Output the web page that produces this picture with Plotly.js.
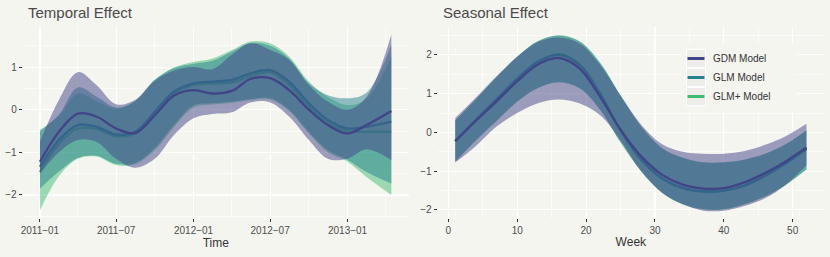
<!DOCTYPE html>
<html><head><meta charset="utf-8">
<script src="https://cdn.plot.ly/plotly-3.0.1.min.js"></script>
<style>html,body{margin:0;padding:0;background:#F5F5F0;}#chart{width:830px;height:257px;}</style>
</head><body><div id="chart"></div>
<script>
// ---------- data ----------
const modelNames = ['GDM Model', 'GLM Model', 'GLM+ Model'];
const modelColors = ['#414487', '#26828E', '#3FBC73'];

// Temporal effect
const timeDates = ['2011-01-01','2011-02-15','2011-04-01','2011-05-15','2011-07-01','2011-08-15','2011-10-01','2011-11-15','2012-01-01','2012-02-15','2012-04-01','2012-05-15','2012-07-01','2012-08-15','2012-10-01','2012-11-15','2013-01-01','2013-02-15','2013-04-15'];
const gdmTimeFit    = [-1.22,-0.52,-0.09,-0.16,-0.44,-0.55,-0.13,0.33,0.46,0.38,0.44,0.72,0.74,0.46,0.00,-0.36,-0.56,-0.36,-0.03];
const gdmTimeUpper  = [-0.75,0.23,0.88,0.58,0.13,0.23,0.68,0.92,1.00,0.95,1.29,1.56,1.40,1.17,0.58,0.19,0.00,0.30,1.76];
const gdmTimeLower  = [-1.50,-1.00,-0.71,-0.75,-1.15,-1.36,-1.15,-0.60,-0.20,-0.10,-0.06,0.17,0.17,-0.16,-0.71,-1.15,-1.15,-0.93,-1.18];
const glmTimeFit    = [-1.34,-0.71,-0.36,-0.40,-0.58,-0.52,-0.05,0.42,0.62,0.66,0.70,0.85,0.93,0.66,0.15,-0.24,-0.44,-0.40,-0.28];
const glmTimeUpper  = [-0.50,-0.12,0.52,0.31,0.05,0.20,0.70,0.97,1.08,1.15,1.36,1.56,1.50,1.20,0.62,0.34,0.27,0.40,1.52];
const glmTimeLower  = [-1.85,-1.45,-1.13,-1.08,-1.27,-1.25,-0.90,-0.36,0.10,0.15,0.19,0.25,0.27,0.00,-0.52,-0.95,-1.18,-1.46,-1.73];
const glmpTimeFit   = [-1.46,-0.80,-0.44,-0.45,-0.62,-0.56,-0.10,0.38,0.58,0.62,0.64,0.78,0.88,0.58,0.07,-0.32,-0.50,-0.52,-0.52];
const glmpTimeUpper = [-0.48,-0.15,0.38,0.20,0.02,0.20,0.70,0.99,1.12,1.20,1.40,1.60,1.56,1.25,0.66,0.30,0.11,0.25,1.25];
const glmpTimeLower = [-2.36,-1.56,-1.15,-1.10,-1.30,-1.28,-0.95,-0.42,0.05,0.12,0.16,0.22,0.24,-0.03,-0.56,-1.00,-1.22,-1.58,-2.00];

// Seasonal effect
const weeks = [1,4,7,10,13,16,19,22,25,28,31,34,37,40,43,46,49,52];
const gdmWeekFit    = [-0.23,0.30,0.80,1.32,1.75,1.92,1.66,0.93,0.07,-0.62,-1.09,-1.35,-1.45,-1.44,-1.29,-1.05,-0.75,-0.39];
const gdmWeekUpper  = [0.37,0.90,1.45,1.95,2.33,2.45,2.30,1.75,0.95,0.20,-0.30,-0.50,-0.55,-0.55,-0.48,-0.32,-0.10,0.22];
const gdmWeekLower  = [-0.78,-0.35,0.15,0.50,0.75,0.85,0.75,0.45,-0.20,-1.00,-1.55,-1.85,-2.02,-2.02,-1.90,-1.70,-1.35,-0.85];
const glmWeekFit    = [-0.22,0.32,0.85,1.38,1.82,2.00,1.75,1.00,0.05,-0.70,-1.18,-1.43,-1.52,-1.50,-1.37,-1.12,-0.80,-0.42];
const glmWeekUpper  = [0.30,0.85,1.42,1.95,2.35,2.50,2.35,1.80,0.95,0.15,-0.40,-0.65,-0.77,-0.77,-0.70,-0.55,-0.30,0.05];
const glmWeekLower  = [-0.75,-0.20,0.30,0.80,1.15,1.30,1.15,0.60,-0.25,-1.00,-1.55,-1.85,-1.98,-1.98,-1.85,-1.65,-1.35,-0.95];
const glmpWeekFit   = [-0.22,0.33,0.86,1.39,1.83,2.02,1.77,1.02,0.05,-0.70,-1.19,-1.44,-1.53,-1.51,-1.38,-1.12,-0.80,-0.43];
const glmpWeekUpper = [0.31,0.86,1.43,1.96,2.36,2.51,2.36,1.81,0.95,0.15,-0.40,-0.66,-0.78,-0.78,-0.71,-0.56,-0.31,0.05];
const glmpWeekLower = [-0.76,-0.21,0.29,0.79,1.14,1.29,1.14,0.59,-0.26,-1.01,-1.56,-1.86,-1.99,-1.99,-1.86,-1.66,-1.36,-0.96];

const timeTickVals = ['2011-01-01','2011-07-01','2012-01-01','2012-07-01','2013-01-01'];
const timeTickText = ['2011\u221201','2011\u221207','2012\u221201','2012\u221207','2013\u221201'];
const timeMinorVals = ['2011-04-01','2011-10-01','2012-04-01','2012-10-01','2013-04-01'];
const leftYTicks = [-2,-1,0,1];
const rightYTicks = [-2,-1,0,1,2];
const weekTicks = [0,10,20,30,40,50];

// ---------- build ----------
const BG = '#F5F5F0';
const W = 830, H = 257;
function hexA(hex, a){const n=parseInt(hex.slice(1),16);return `rgba(${n>>16&255},${n>>8&255},${n&255},${a})`;}
function lbl(v){return v<0?'\u2212'+Math.abs(v):String(v);}

const traces = [];
function addRibbon(x, lo, hi, color, xa, ya){
  traces.push({x:x, y:lo, xaxis:xa, yaxis:ya, mode:'lines', line:{width:0, shape:'spline', smoothing:1}, hoverinfo:'skip', showlegend:false});
  traces.push({x:x, y:hi, xaxis:xa, yaxis:ya, mode:'lines', line:{width:0, shape:'spline', smoothing:1}, fill:'tonexty', fillcolor:hexA(color,0.5), hoverinfo:'skip', showlegend:false});
}
function addLine(x, y, color, xa, ya){
  traces.push({x:x, y:y, xaxis:xa, yaxis:ya, mode:'lines', line:{width:2.3, color:color, shape:'spline', smoothing:1}, hoverinfo:'skip', showlegend:false});
}
// per model (GLM+, GLM, GDM): line, then its ribbon over it
addLine(timeDates, glmpTimeFit, modelColors[2], 'x', 'y');
addRibbon(timeDates, glmpTimeLower, glmpTimeUpper, modelColors[2], 'x', 'y');
addLine(timeDates, glmTimeFit, modelColors[1], 'x', 'y');
addRibbon(timeDates, glmTimeLower, glmTimeUpper, modelColors[1], 'x', 'y');
addLine(timeDates, gdmTimeFit, modelColors[0], 'x', 'y');
addRibbon(timeDates, gdmTimeLower, gdmTimeUpper, modelColors[0], 'x', 'y');

addLine(weeks, glmpWeekFit, modelColors[2], 'x2', 'y2');
addRibbon(weeks, glmpWeekLower, glmpWeekUpper, modelColors[2], 'x2', 'y2');
addLine(weeks, glmWeekFit, modelColors[1], 'x2', 'y2');
addRibbon(weeks, glmWeekLower, glmWeekUpper, modelColors[1], 'x2', 'y2');
addLine(weeks, gdmWeekFit, modelColors[0], 'x2', 'y2');
addRibbon(weeks, gdmWeekLower, gdmWeekUpper, modelColors[0], 'x2', 'y2');

const px = v => v / W, py = v => 1 - v / H;
const FAM = 'Liberation Sans, Arial, sans-serif';
const tickFont = {family:FAM, size:10, color:'#4D4D4D'};
const titleFont = {family:FAM, size:12, color:'#333333'};
const common = {showline:false, zeroline:false, showgrid:true, gridcolor:'#FFFFFF', gridwidth:1.1,
  ticks:'outside', ticklen:3, tickwidth:1, tickcolor:'#333333', tickfont:tickFont, fixedrange:true};
const yDomain = [1 - 218/H, 1 - 27/H];
const minorGrid = {showgrid:true, gridcolor:'#FFFFFF', gridwidth:0.6, ticks:''};

const layout = {
  width:W, height:H, paper_bgcolor:BG, plot_bgcolor:BG,
  margin:{l:0, r:0, t:0, b:0}, showlegend:false,
  font:{family:FAM},
  xaxis: Object.assign({}, common, {type:'date', domain:[px(22.7), px(409)], anchor:'y',
    range:['2010-11-21','2013-05-27'], tickmode:'array', tickvals:timeTickVals, ticktext:timeTickText,
    minor:Object.assign({tickmode:'array', tickvals:timeMinorVals}, minorGrid),
    title:{text:'Time', font:titleFont, standoff:2}}),
  yaxis: Object.assign({}, common, {domain:yDomain, anchor:'x', range:[-2.54, 1.94],
    tickmode:'array', tickvals:leftYTicks, ticktext:leftYTicks.map(lbl),
    minor:Object.assign({tickmode:'array', tickvals:[-2.5,-1.5,-0.5,0.5,1.5]}, minorGrid)}),
  xaxis2: Object.assign({}, common, {domain:[px(437.7), px(824)], anchor:'y2', range:[-1.55, 54.55],
    tickmode:'array', tickvals:weekTicks, ticktext:weekTicks.map(String),
    minor:Object.assign({tickmode:'array', tickvals:[5,15,25,35,45]}, minorGrid),
    title:{text:'Week', font:titleFont, standoff:2}}),
  yaxis2: Object.assign({}, common, {domain:yDomain, anchor:'x2', range:[-2.21, 2.72],
    tickmode:'array', tickvals:rightYTicks, ticktext:rightYTicks.map(lbl),
    minor:Object.assign({tickmode:'array', tickvals:[-1.5,-0.5,0.5,1.5,2.5]}, minorGrid)}),
  annotations: [
    {text:'Temporal Effect', xref:'paper', yref:'paper', x:px(25.5), y:py(12), xanchor:'left', yanchor:'middle', showarrow:false,
      font:{family:FAM, size:15, color:'#4A4A4A'}},
    {text:'Seasonal Effect', xref:'paper', yref:'paper', x:px(440.5), y:py(12), xanchor:'left', yanchor:'middle', showarrow:false,
      font:{family:FAM, size:15, color:'#4A4A4A'}}
  ],
  shapes: [
    {type:'rect', xref:'paper', yref:'paper', x0:px(681), x1:px(797), y0:py(112), y1:py(44), fillcolor:BG, line:{width:0}, layer:'above'}
  ]
};
// custom legend (keys + labels)
const rowCenters = [58.5, 77.5, 96.5];
modelNames.forEach((name, i) => {
  const c = rowCenters[i];
  layout.shapes.push({type:'rect', xref:'paper', yref:'paper', x0:px(686.5), x1:px(705.5), y0:py(c+9.2), y1:py(c-9.2),
    fillcolor:'#EDEDEA', line:{color:'#FFFFFF', width:1}, layer:'above'});
  layout.shapes.push({type:'line', xref:'paper', yref:'paper', x0:px(687.5), x1:px(704.5), y0:py(c), y1:py(c),
    line:{color:modelColors[i], width:3}, layer:'above'});
  layout.annotations.push({text:name, xref:'paper', yref:'paper', x:px(711), y:py(c), xanchor:'left', yanchor:'middle', showarrow:false,
    font:{family:FAM, size:10, color:'#333333'}});
});

Plotly.newPlot('chart', traces, layout, {staticPlot:true, displayModeBar:false});
</script></body></html>
